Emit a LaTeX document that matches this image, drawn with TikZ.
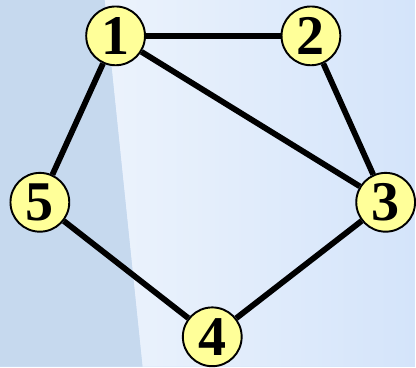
\documentclass[tikz,border=0pt]{standalone}
\usepackage{fontspec}
\setmainfont{Liberation Serif}
\usetikzlibrary{backgrounds}

\definecolor{bgblue}{RGB}{212,228,250}
\definecolor{paleblue}{RGB}{236,243,252}
\definecolor{wallblue}{RGB}{198,217,238}
\definecolor{vtxfill}{RGB}{255,255,153}

\begin{document}
\begin{tikzpicture}[
    vertex/.style={circle, draw=black, fill=vtxfill, line width=1.1pt,
                   minimum size=1.18cm, inner sep=0pt,
                   font=\fontsize{32}{32}\selectfont\bfseries},
    link/.style={line width=3.3pt, black}
]

% Vertices
\node[vertex] (v1) at (2.32,6.64) {1};
\node[vertex] (v2) at (6.24,6.64) {2};
\node[vertex] (v3) at (7.74,3.30) {3};
\node[vertex] (v4) at (4.26,0.60) {4};
\node[vertex] (v5) at (0.80,3.30) {5};

\begin{scope}[on background layer]
    % Background
    \fill[bgblue] (0,0) rectangle (8.32,7.36);
    \shade[left color=paleblue, right color=bgblue]
        (2.10,7.36) -- (8.32,7.36) -- (8.32,0) -- (2.86,0) -- cycle;
    \fill[wallblue] (0,0) -- (0,7.36) -- (2.10,7.36) -- (2.86,0) -- cycle;

    % Edges
    \draw[link] (v1) -- (v2);
    \draw[link] (v2) -- (v3);
    \draw[link] (v1) -- (v3);
    \draw[link] (v3) -- (v4);
    \draw[link] (v4) -- (v5);
    \draw[link] (v5) -- (v1);
\end{scope}

\useasboundingbox (0,0) rectangle (8.32,7.36);
\end{tikzpicture}
\end{document}
